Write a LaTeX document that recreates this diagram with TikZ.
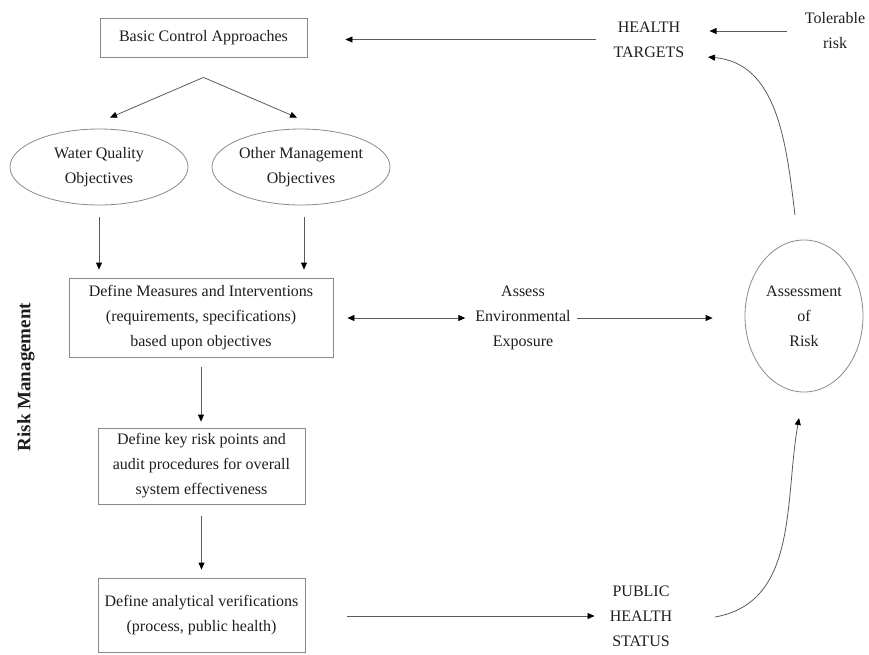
\documentclass[tikz,border=0pt]{standalone}
\usepackage{fontspec}
\setmainfont{Liberation Serif}
\usetikzlibrary{arrows.meta,shapes.geometric}
\definecolor{linegray}{HTML}{5A5A5A}
\definecolor{boxgray}{HTML}{8A8A8A}
\definecolor{txt}{HTML}{1E1E1E}
\begin{document}
\begin{tikzpicture}[x=1pt,y=-1pt,
  every node/.style={font=\fontsize{16}{25}\selectfont, text=txt, align=center},
  txtnode/.style={inner sep=0pt},
  rectbox/.style={draw=boxgray, line width=0.8pt, inner sep=0pt},
  ovalbox/.style={draw=boxgray, line width=0.8pt, ellipse, inner sep=0pt},
  arr/.style={draw=linegray, line width=0.8pt, -{Triangle[length=7pt,width=6pt,color=black]}},
  darr/.style={draw=linegray, line width=0.8pt, {Triangle[length=7pt,width=6pt,color=black]}-{Triangle[length=7pt,width=6pt,color=black]}}]
\useasboundingbox (0,0) rectangle (869,654);

% nodes
\node[rectbox, minimum width=207pt, minimum height=39pt] (bca) at (203.5,37.5) {Basic Control Approaches};
\node[txtnode] (ht) at (649,39.5) {HEALTH\\TARGETS};
\node[txtnode] (tol) at (835,31) {Tolerable\\risk};
\node[ovalbox, minimum width=178pt, minimum height=76pt] (wq) at (99,167) {Water Quality\\Objectives};
\node[ovalbox, minimum width=178pt, minimum height=76pt] (om) at (301,167) {Other Management\\Objectives};
\node[rectbox, minimum width=264pt, minimum height=79pt] (dm) at (201,317.5) {Define Measures and Interventions\\(requirements, specifications)\\based upon objectives};
\node[txtnode] (ae) at (523,318) {Assess\\Environmental\\Exposure};
\node[ovalbox, minimum width=118pt, minimum height=152pt] (ar) at (804,316) {Assessment\\of\\Risk};
\node[rectbox, minimum width=207pt, minimum height=76pt] (dk) at (201.5,466) {Define key risk points and\\audit procedures for overall\\system effectiveness};
\node[rectbox, minimum width=207pt, minimum height=74pt] (da) at (201.5,615) {Define analytical verifications\\(process, public health)};
\node[txtnode] (phs) at (641,616) {PUBLIC\\HEALTH\\STATUS};
\node[txtnode, rotate=90, font=\fontsize{19}{23}\selectfont\bfseries] (rm) at (26,377) {Risk Management};

% helper coordinates
\coordinate (split) at ([yshift=-20pt]bca.south);
\coordinate (arup) at (795,215);
\coordinate (htin) at (708,57);
\coordinate (phsout) at (715,617);
\coordinate (ardown) at (799,418);

% connectors
\draw[arr, shorten <=17pt, shorten >=38pt] (ht.west) -- (bca.east |- ht.west);
\draw[arr, shorten <=18pt, shorten >=25pt] (tol.west) -- (tol.west -| ht.east);
\draw[arr] (arup) to[out=97,in=-5] (htin);
\draw[arr] (split) -- ([xshift=11pt,yshift=11pt]wq.north);
\draw[arr] (split) -- ([xshift=-4pt,yshift=11pt]om.north);
\draw[arr, shorten <=12pt, shorten >=8pt] (wq.south) -- (wq.south |- dm.north);
\draw[arr, shorten <=12pt, shorten >=8pt] ([xshift=3pt]om.south) -- ([xshift=3pt]om.south |- dm.north);
\draw[darr, shorten <=14pt, shorten >=10pt] (dm.east |- ae.west) -- (ae.west);
\draw[arr, shorten <=6pt, shorten >=32pt] (ae.east) -- (ae.east -| ar.west);
\draw[arr, shorten <=10pt, shorten >=6pt] (dm.south) -- (dm.south |- dk.north);
\draw[arr, shorten <=12pt, shorten >=8pt] (dk.south) -- (dk.south |- da.north);
\draw[arr, shorten <=42pt, shorten >=15pt] (da.east |- phs.west) -- (phs.west);
\draw[arr] (phsout) to[out=10,in=260] (ardown);
\end{tikzpicture}
\end{document}
